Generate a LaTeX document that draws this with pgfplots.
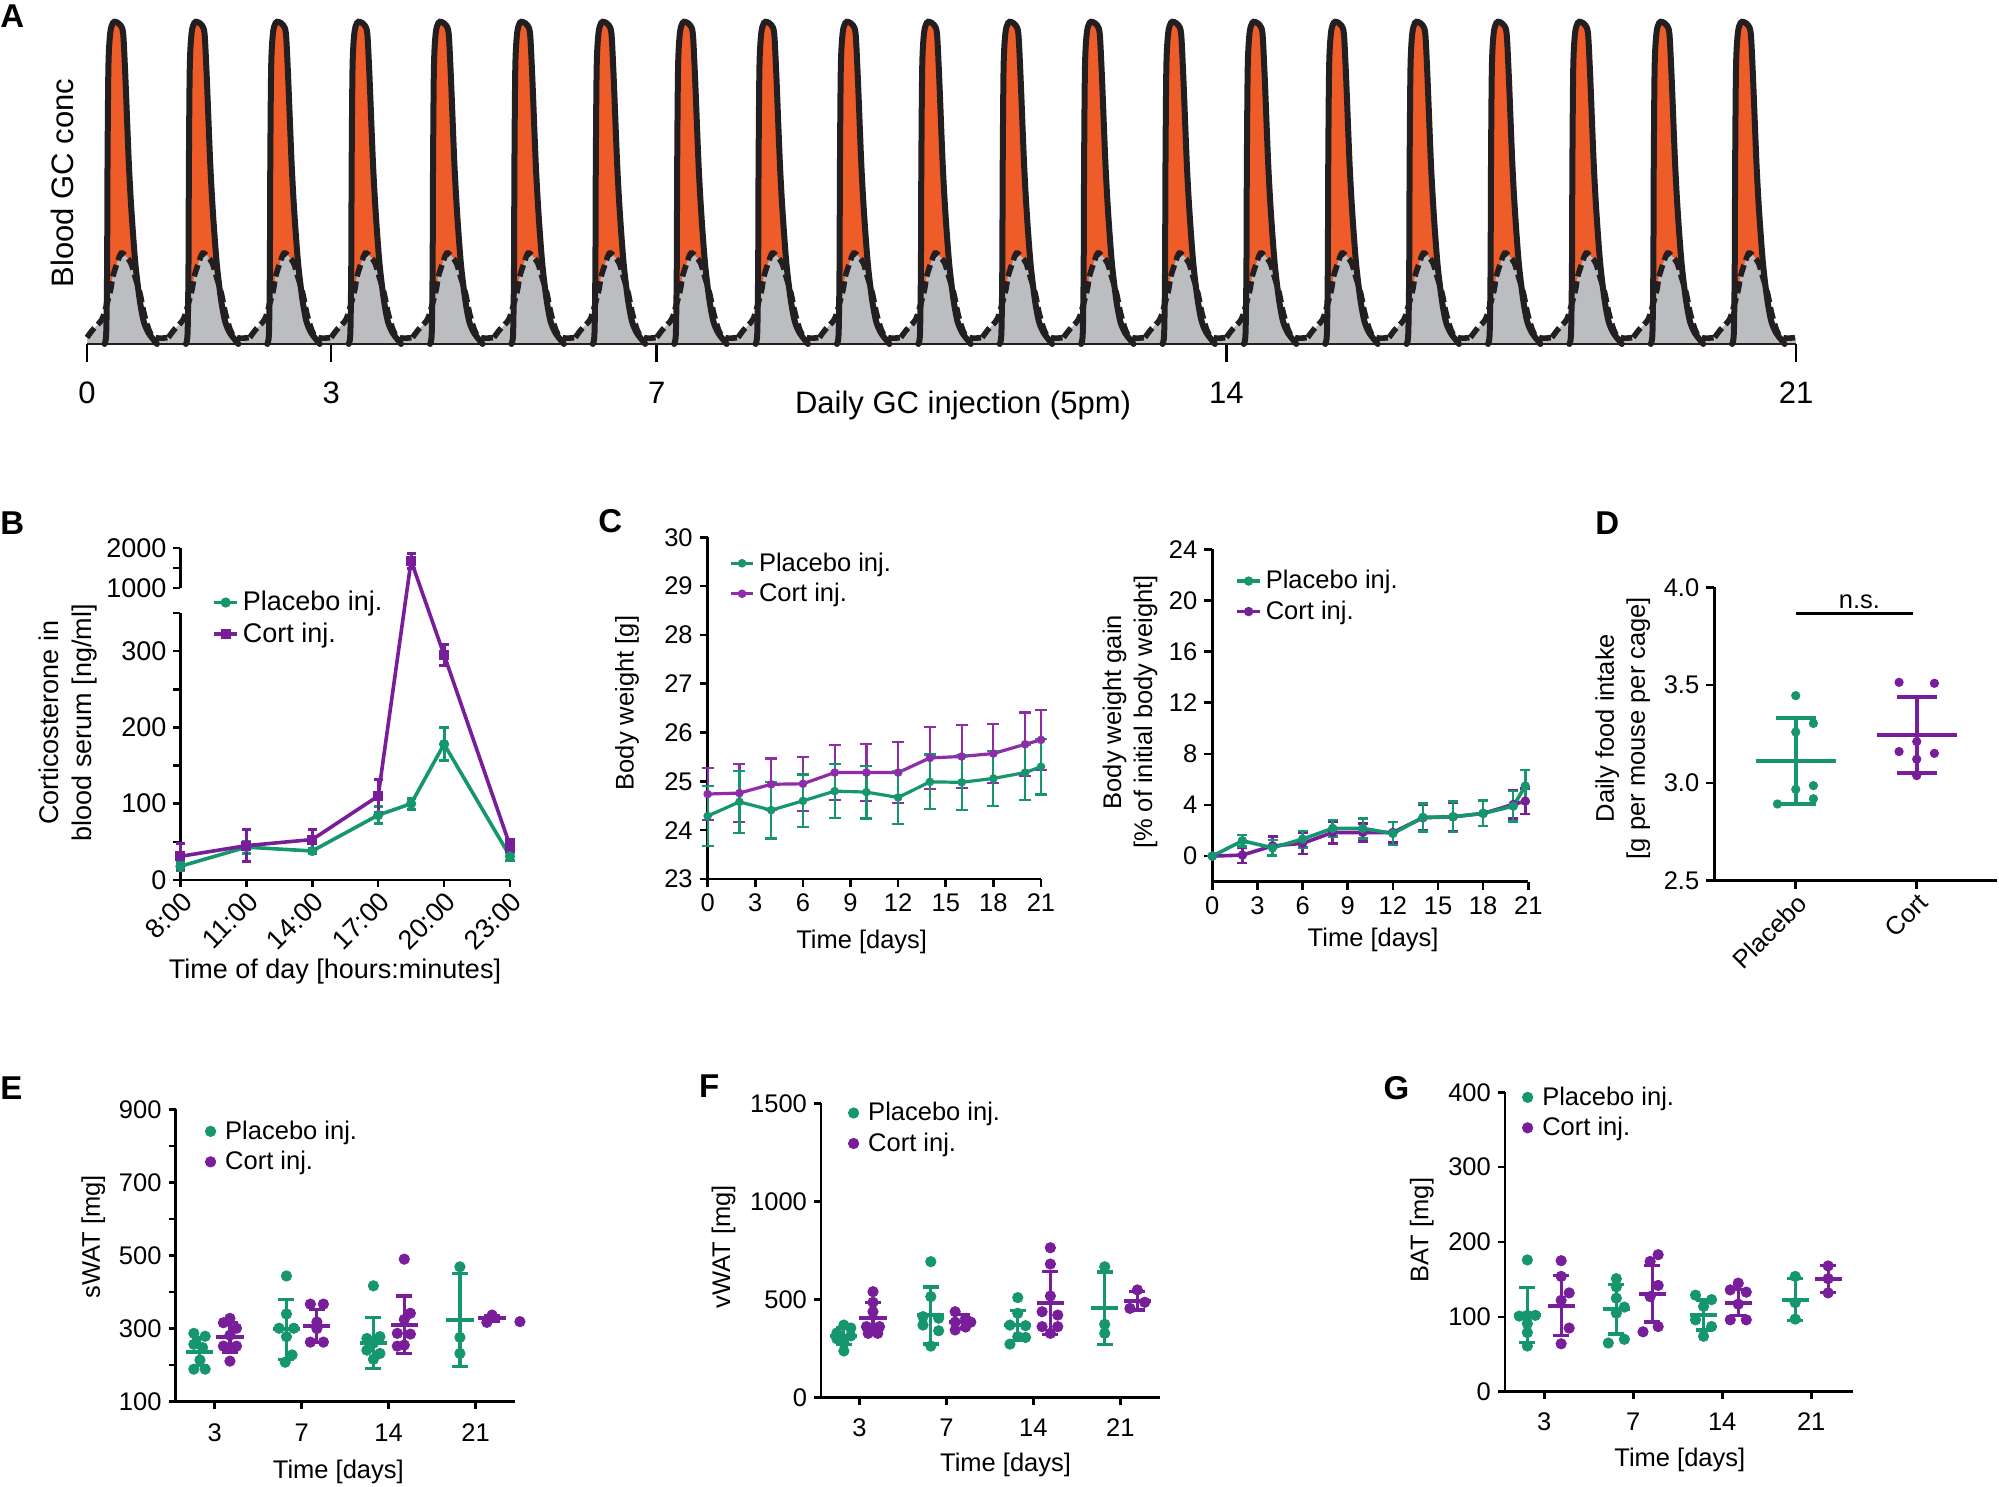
\documentclass[border=0pt]{standalone}
\usepackage{pgfplots}
\pgfplotsset{compat=1.18}
\usepackage{pgfplotstable}
\usepackage{fontspec}
\setmainfont{Liberation Sans}

\definecolor{pgreen}{RGB}{22,150,110}
\definecolor{cpurple}{RGB}{120,30,155}
\definecolor{cpurpleL}{RGB}{142,44,170}
\definecolor{corange}{RGB}{238,92,42}
\definecolor{cgrey}{RGB}{188,189,193}
\definecolor{outl}{RGB}{35,31,32}

\newcommand{\fa}{\fontsize{15.5}{18}\selectfont}
\newcommand{\fb}{\fontsize{13.5}{16.5}\selectfont}
\newcommand{\fc}{\fontsize{12.75}{15.5}\selectfont}
\newcommand{\fl}{\fontsize{16.5}{18}\selectfont\bfseries}

% ---------- Panel A: one daily profile (u = fraction of day, h = relative conc.)
\pgfplotstableread{
u h
0.215 0.0
0.236 0.034
0.247 0.24
0.252 0.55
0.263 0.86
0.285 0.965
0.318 0.997
0.357 1.0
0.411 0.99
0.444 0.965
0.466 0.861
0.483 0.758
0.499 0.654
0.516 0.551
0.538 0.447
0.565 0.344
0.598 0.240
0.647 0.138
0.697 0.07
0.757 0.034
0.823 0.012
0.86 0.0
}\Apeak
\pgfplotstableread{
u h
0.00 0.02
0.07 0.044
0.18 0.075
0.235 0.116
0.29 0.168
0.317 0.209
0.37 0.251
0.42 0.282
0.48 0.272
0.54 0.251
0.59 0.209
0.65 0.158
0.70 0.096
0.76 0.044
0.81 0.023
0.89 0.018
1.00 0.02
}\Abase

% ---------- Panel B
\pgfplotstableread{
t y e
8 18 5
11 43 8
14 38 3
17 85 11
18.5 100 7
20 178 22
23 31 5
}\Bpl
\pgfplotstableread{
t y e
8 31 17
11 45 21
14 53 13
17 110 22
18.5 1680 190
20 295 14
23 45 8
}\Bco

% ---------- Panel C
\pgfplotstableread{
d pl epl co eco
0 24.29 0.61 24.74 0.53
2 24.58 0.64 24.76 0.60
4 24.41 0.58 24.94 0.53
6 24.60 0.54 24.95 0.55
8 24.80 0.55 25.18 0.57
10 24.78 0.54 25.18 0.59
12 24.67 0.54 25.18 0.63
14 24.99 0.56 25.48 0.63
16 24.98 0.56 25.51 0.64
18 25.06 0.57 25.57 0.61
20 25.18 0.57 25.76 0.65
21 25.30 0.57 25.85 0.61
}\Cbw
\pgfplotstableread{
d pl epl co eco
0 0 0 0 0
2 1.2 0.46 0.08 0.6
4 0.65 0.6 0.8 0.75
6 1.33 0.65 1.0 0.85
8 2.17 0.65 1.85 0.85
10 2.17 0.78 1.85 0.7
12 1.77 0.9 1.85 0.8
14 3.03 1.1 3.0 1.0
16 3.08 1.2 3.08 1.1
18 3.34 1.0 3.34 1.0
20 3.91 1.2 4.04 1.1
20.8 5.48 1.27 4.3 1.0
}\Cgain

% ---------- Panel D
\pgfplotstableread{
x y
1.0 3.446
1.146 3.304
1.0 3.260
1.146 2.986
1.0 2.967
1.146 2.919
0.849 2.892
}\Dpl
\pgfplotstableread{
x y
1.854 3.514
2.146 3.509
2.0 3.211
1.854 3.160
2.146 3.151
2.0 3.121
2.0 3.037
}\Dco

% ---------- Panel E (sWAT)
\pgfplotstableread{
x y
0.76 287
0.89 279
0.76 257
0.86 248
0.83 214
0.76 189
0.89 189
1.825 444
1.825 340
1.74 301
1.91 301
1.825 278
1.89 228
1.81 208
2.825 417
2.75 273
2.90 278
2.825 260
2.75 241
2.90 232
2.825 216
3.82 469
3.82 276
3.82 232
}\Epl
\pgfplotstableread{
x y
1.175 328
1.10 316
1.25 301
1.175 282
1.10 252
1.25 252
1.175 211
2.10 367
2.25 367
2.175 318
2.175 300
2.10 263
2.25 263
3.18 490
3.25 342
3.18 325
3.10 287
3.25 285
3.18 255
3.10 252
4.13 317
4.19 337
4.51 319
}\Eco
\pgfplotstableread{
x m s
0.825 236 38
1.825 298 82
2.825 260 70
3.82 324 127
}\Epm
\pgfplotstableread{
x m s
1.175 276 40
2.175 308 45
3.18 310 79
4.19 328 8
}\Ecm

% ---------- Panel F (vWAT)
\pgfplotstableread{
x y
0.82 370
0.90 355
0.74 330
0.90 315
0.74 300
0.82 280
0.82 238
1.82 693
1.82 515
1.73 413
1.91 405
1.73 370
1.91 341
1.82 263
2.82 510
2.82 430
2.73 370
2.91 367
2.82 311
2.91 307
2.73 273
3.82 667
3.82 374
3.82 328
}\Fpl
\pgfplotstableread{
x y
1.155 540
1.155 486
1.155 438
1.08 362
1.23 362
1.10 328
1.21 328
2.10 438
2.22 404
2.10 385
2.28 385
2.10 345
2.22 360
3.195 764
3.195 681
3.195 518
3.10 438
3.28 421
3.10 362
3.28 362
3.195 328
4.196 549
4.11 455
4.28 486
}\Fco
\pgfplotstableread{
x m s
0.82 314 45
1.82 419 145
2.82 368 75
3.82 455 185
}\Fpm
\pgfplotstableread{
x m s
1.155 408 78
2.18 387 35
3.195 481 160
4.196 494 47
}\Fcm

% ---------- Panel G (BAT)
\pgfplotstableread{
x y
0.81 176
0.72 101
0.81 102
0.90 102
0.81 91
0.81 79
0.81 61
1.81 151
1.81 140
1.81 125
1.90 113
1.81 105
1.90 70
1.72 65
2.70 129
2.88 123
2.79 114
2.70 96
2.88 87
2.79 74
3.82 154
3.82 119
3.82 97
}\Gpl
\pgfplotstableread{
x y
1.19 175
1.19 154
1.28 132
1.19 122
1.28 85
1.19 64
2.28 183
2.19 174
2.28 142
2.19 127
2.28 87
2.11 80
3.18 145
3.09 136
3.27 133
3.18 117
3.09 96
3.27 96
4.19 168
4.19 151
4.19 132
}\Gco
\pgfplotstableread{
x m s
0.81 102.5 37
1.81 110 33
2.79 102.5 20
3.82 123 28
}\Gpm
\pgfplotstableread{
x m s
1.19 115 40
2.216 131 38
3.18 119 17
4.19 150.5 18
}\Gcm

\pgfplotsset{
  gp/.style={scale only axis, anchor=south west, clip=false, enlargelimits=false,
    axis x line=bottom, axis y line=left,
    axis line style={-, line width=1.4pt, black},
    tick align=outside, tick style={line width=1.3pt, black},
    major tick length=4pt,
    /pgf/number format/assume math mode=true,
    /pgf/number format/1000 sep={},
    tick label style={font=\fc, black},
    label style={font=\fc, black},
    legend style={font=\fc, draw=none, fill=none, anchor=north west, legend cell align=left, row sep=0.5pt},
  },
  linelegend/.style={legend image code/.code={\draw[mark repeat=2,mark phase=2,##1] plot coordinates {(0cm,0cm) (0.2cm,0cm) (0.4cm,0cm)};}},
  dotlegend/.style={legend image code/.code={\draw[##1, only marks] plot coordinates {(0cm,0cm)}; \path (0.18cm,0cm);}},
  meansd/.style={only marks, mark=-, mark size=6.8pt, mark options={line width=2pt}, forget plot,
    error bars/y dir=both, error bars/y explicit,
    error bars/error bar style={line width=1.6pt},
    error bars/error mark options={rotate=90, mark size=4pt, line width=1.6pt}},
  dots/.style={only marks, mark=*, mark size=2.6pt},
}

\begin{document}
\begin{tikzpicture}
\path[use as bounding box] (0,0) rectangle (999.5pt,743.5pt);

\node[anchor=base west, inner sep=0pt, font=\fl] at (0pt,729.5pt) {A};
\node[anchor=base west, inner sep=0pt, font=\fl] at (0pt,476pt) {B};
\node[anchor=base west, inner sep=0pt, font=\fl] at (299pt,477pt) {C};
\node[anchor=base west, inner sep=0pt, font=\fl] at (797.5pt,476pt) {D};
\node[anchor=base west, inner sep=0pt, font=\fl] at (0pt,193.5pt) {E};
\node[anchor=base west, inner sep=0pt, font=\fl] at (349.35pt,194.5pt) {F};
\node[anchor=base west, inner sep=0pt, font=\fl] at (691.65pt,193.5pt) {G};

% ================= A
\begin{axis}[gp, at={(43.5pt,571.5pt)}, width=854.5pt, height=161pt,
  xmin=0, xmax=21, ymin=0, ymax=1, axis on top,
  axis line style={-, line width=1.4pt, outl},
  y axis line style={draw=none}, ytick=\empty,
  xtick={0,3,7,14,21}, major tick length=9pt,
  tick label style={font=\fa}, label style={font=\fa},
  xticklabel style={yshift=-6.5pt},
  xlabel={Daily GC injection (5pm)},
  xlabel style={at={(axis description cs:0.5126,-0.192)}, anchor=center},
  ylabel={Blood GC conc},
  ylabel style={at={(axis description cs:-0.0146,0.5)}, anchor=center},
]
\pgfplotsinvokeforeach{0,...,20}{
  \addplot[draw=none, fill=corange, smooth] table[x expr=\thisrow{u}+#1, y=h]{\Apeak} \closedcycle;
}
\pgfplotsinvokeforeach{0,...,20}{
  \addplot[draw=none, fill=cgrey, smooth] table[x expr=\thisrow{u}+#1, y=h]{\Abase} \closedcycle;
}
\pgfplotsinvokeforeach{0,...,20}{
  \addplot[outl, line width=3pt, line cap=round, smooth] table[x expr=\thisrow{u}+#1, y=h]{\Apeak};
}
\pgfplotsinvokeforeach{0,...,20}{
  \addplot[outl, line width=2.8pt, dash pattern=on 6pt off 2.5pt, smooth] table[x expr=\thisrow{u}+#1, y=h]{\Abase};
}
\end{axis}

% ================= B
\begin{axis}[gp, linelegend, at={(90.2pt,303.5pt)}, width=164.8pt, height=166pt,
  xmin=8, xmax=23, ymin=0, ymax=435.1,
  xtick={8,11,14,17,20,23}, xticklabels={8:00,11:00,14:00,17:00,20:00,23:00},
  ytick={0,50,100,150,200,250,300,350,382.7,408.9,435.1},
  yticklabels={0,,100,,200,,300,,1000,,2000},
  y axis line style={draw=none},
  major tick length=3.5pt,
  tick label style={font=\fb}, label style={font=\fb},
  xticklabel style={rotate=45, anchor=north east, inner sep=1pt},
  xlabel={Time of day [hours:minutes]},
  xlabel style={at={(axis description cs:0.469,-0.275)}, anchor=center},
  ylabel={Corticosterone in\\blood serum [ng/ml]},
  ylabel style={align=center, at={(axis description cs:-0.341,0.473)}, anchor=center},
  legend style={at={(axis description cs:0.078,0.895)}, font=\fb},
]
\draw[line width=1.4pt] (axis cs:8,0) -- (axis cs:8,350);
\draw[line width=1.4pt] (axis cs:8,382.7) -- (axis cs:8,435.1);
\addplot[pgreen, line width=1.8pt, mark=*, mark size=1.6pt,
  error bars/.cd, y dir=both, y explicit, error bar style={line width=1.5pt},
  error mark options={rotate=90, mark size=2.3pt, line width=1.5pt}]
  table[x=t, y expr={ifthenelse(\thisrow{y}>1000, 382.7+(\thisrow{y}-1000)*0.0524, \thisrow{y})},
        y error expr={ifthenelse(\thisrow{y}>1000, \thisrow{e}*0.0524, \thisrow{e})}]{\Bpl};
\addlegendentry{Placebo inj.}
\addplot[cpurple, line width=1.8pt, mark=square*, mark size=1.6pt,
  error bars/.cd, y dir=both, y explicit, error bar style={line width=1.5pt},
  error mark options={rotate=90, mark size=2.3pt, line width=1.5pt}]
  table[x=t, y expr={ifthenelse(\thisrow{y}>1000, 382.7+(\thisrow{y}-1000)*0.0524, \thisrow{y})},
        y error expr={ifthenelse(\thisrow{y}>1000, \thisrow{e}*0.0524, \thisrow{e})}]{\Bco};
\addlegendentry{Cort inj.}
\end{axis}

% ================= C (body weight)
\begin{axis}[gp, linelegend, at={(353.85pt,304pt)}, width=166.65pt, height=170.85pt,
  xmin=0, xmax=21, ymin=23, ymax=30, xtick={0,3,...,21}, ytick={23,...,30},
  xlabel={Time [days]},
  xlabel style={at={(axis description cs:0.462,-0.183)}, anchor=center},
  ylabel={Body weight [g]},
  ylabel style={at={(axis description cs:-0.242,0.515)}, anchor=center},
  legend style={at={(axis description cs:0.045,0.98)}}, reverse legend,
]
\addplot[cpurpleL, line width=1.6pt, mark=*, mark size=1.3pt,
  error bars/.cd, y dir=both, y explicit, error bar style={line width=1.1pt},
  error mark options={rotate=90, mark size=3pt, line width=1.1pt}]
  table[x=d, y=co, y error=eco]{\Cbw};
\addlegendentry{Cort inj.}
\addplot[pgreen, line width=1.6pt, mark=*, mark size=1.3pt,
  error bars/.cd, y dir=both, y explicit, error bar style={line width=1.1pt},
  error mark options={rotate=90, mark size=3pt, line width=1.1pt}]
  table[x=d, y=pl, y error=epl]{\Cbw};
\addlegendentry{Placebo inj.}
\end{axis}

% ================= C (body weight gain)
\begin{axis}[gp, linelegend, at={(606.15pt,302.65pt)}, width=158pt, height=166.2pt,
  xmin=0, xmax=21, ymin=-2, ymax=24, xtick={0,3,...,21}, ytick={0,4,...,24},
  xlabel={Time [days]},
  xlabel style={at={(axis description cs:0.509,-0.175)}, anchor=center},
  ylabel={Body weight gain\\{[\% of initial body weight]}},
  ylabel style={align=center, at={(axis description cs:-0.26,0.51)}, anchor=center},
  legend style={at={(axis description cs:0.053,0.962)}}, reverse legend,
]
\addplot[cpurple, line width=1.8pt, mark=*, mark size=1.4pt,
  error bars/.cd, y dir=both, y explicit, error bar style={line width=1.2pt},
  error mark options={rotate=90, mark size=2.5pt, line width=1.2pt}]
  table[x=d, y=co, y error=eco]{\Cgain};
\addlegendentry{Cort inj.}
\addplot[pgreen, line width=1.8pt, mark=*, mark size=1.4pt,
  error bars/.cd, y dir=both, y explicit, error bar style={line width=1.2pt},
  error mark options={rotate=90, mark size=2.5pt, line width=1.2pt}]
  table[x=d, y=pl, y error=epl]{\Cgain};
\addlegendentry{Placebo inj.}
\end{axis}

% ================= D
\begin{axis}[gp, at={(857.15pt,303.15pt)}, width=141.5pt, height=146.7pt,
  xmin=0.327, xmax=2.666, ymin=2.5, ymax=4.0,
  xtick={1,2}, xticklabels={Placebo,Cort},
  xticklabel style={rotate=45, anchor=north east, inner sep=1pt},
  ytick={2.5,3.0,3.5,4.0},
  yticklabel style={/pgf/number format/.cd, fixed, fixed zerofill, precision=1},
  ylabel={Daily food intake\\{[g per mouse per cage]}},
  ylabel style={align=center, at={(axis description cs:-0.323,0.52)}, anchor=center},
]
\addplot[pgreen, only marks, mark=*, mark size=2.1pt] table[x=x, y=y]{\Dpl};
\addplot[cpurple, only marks, mark=*, mark size=2.1pt] table[x=x, y=y]{\Dco};
\addplot[pgreen, only marks, mark=-, mark size=20pt, mark options={line width=2pt},
  error bars/.cd, y dir=both, y explicit, error bar style={line width=2pt},
  error mark options={rotate=90, mark size=10pt, line width=2pt}]
  coordinates {(1,3.112) +- (0,0.221)};
\addplot[cpurple, only marks, mark=-, mark size=20pt, mark options={line width=2pt},
  error bars/.cd, y dir=both, y explicit, error bar style={line width=2pt},
  error mark options={rotate=90, mark size=10pt, line width=2pt}]
  coordinates {(2,3.245) +- (0,0.193)};
\draw[line width=1.6pt] (axis cs:1.0,3.867) -- (axis cs:1.965,3.867);
\node[font=\fc] at (axis cs:1.526,3.927) {n.s.};
\end{axis}

% ================= E
\begin{axis}[gp, dotlegend, at={(87.8pt,42.65pt)}, width=169.55pt, height=146.2pt,
  xmin=0.55, xmax=4.45, ymin=100, ymax=900,
  xtick={1,2,3,4}, xticklabels={3,7,14,21},
  ytick={100,200,...,900}, yticklabels={100,,300,,500,,700,,900},
  major tick length=3.5pt, xticklabel style={yshift=-4pt},
  xlabel={Time [days]},
  xlabel style={at={(axis description cs:0.48,-0.239)}, anchor=center},
  ylabel={sWAT [mg]},
  ylabel style={at={(axis description cs:-0.243,0.564)}, anchor=center},
  legend style={at={(axis description cs:0.069,0.99)}},
]
\addplot[pgreen, dots] table[x=x, y=y]{\Epl};
\addlegendentry{Placebo inj.}
\addplot[cpurple, dots] table[x=x, y=y]{\Eco};
\addlegendentry{Cort inj.}
\addplot[pgreen, meansd] table[x=x, y=m, y error=s]{\Epm};
\addplot[cpurple, meansd] table[x=x, y=m, y error=s]{\Ecm};
\end{axis}

% ================= F
\begin{axis}[gp, dotlegend, at={(410.5pt,44.65pt)}, width=169.35pt, height=147.2pt,
  xmin=0.557, xmax=4.453, ymin=0, ymax=1500,
  xtick={1,2,3,4}, xticklabels={3,7,14,21},
  ytick={0,500,1000,1500},
  major tick length=3.5pt, xticklabel style={yshift=-3.5pt},
  xlabel={Time [days]},
  xlabel style={at={(axis description cs:0.545,-0.229)}, anchor=center},
  ylabel={vWAT [mg]},
  ylabel style={at={(axis description cs:-0.288,0.513)}, anchor=center},
  legend style={at={(axis description cs:0.062,1.032)}},
]
\addplot[pgreen, dots] table[x=x, y=y]{\Fpl};
\addlegendentry{Placebo inj.}
\addplot[cpurple, dots] table[x=x, y=y]{\Fco};
\addlegendentry{Cort inj.}
\addplot[pgreen, meansd] table[x=x, y=m, y error=s]{\Fpm};
\addplot[cpurple, meansd] table[x=x, y=m, y error=s]{\Fcm};
\end{axis}

% ================= G
\begin{axis}[gp, dotlegend, at={(752.45pt,47.65pt)}, width=173.85pt, height=149.7pt,
  xmin=0.558, xmax=4.465, ymin=0, ymax=400,
  xtick={1,2,3,4}, xticklabels={3,7,14,21},
  ytick={0,100,...,400},
  major tick length=3.5pt, xticklabel style={yshift=-3.5pt},
  xlabel={Time [days]},
  xlabel style={at={(axis description cs:0.503,-0.228)}, anchor=center},
  ylabel={BAT [mg]},
  ylabel style={at={(axis description cs:-0.239,0.54)}, anchor=center},
  legend style={at={(axis description cs:0.032,1.047)}},
]
\addplot[pgreen, dots] table[x=x, y=y]{\Gpl};
\addlegendentry{Placebo inj.}
\addplot[cpurple, dots] table[x=x, y=y]{\Gco};
\addlegendentry{Cort inj.}
\addplot[pgreen, meansd] table[x=x, y=m, y error=s]{\Gpm};
\addplot[cpurple, meansd] table[x=x, y=m, y error=s]{\Gcm};
\end{axis}

\end{tikzpicture}
\end{document}
